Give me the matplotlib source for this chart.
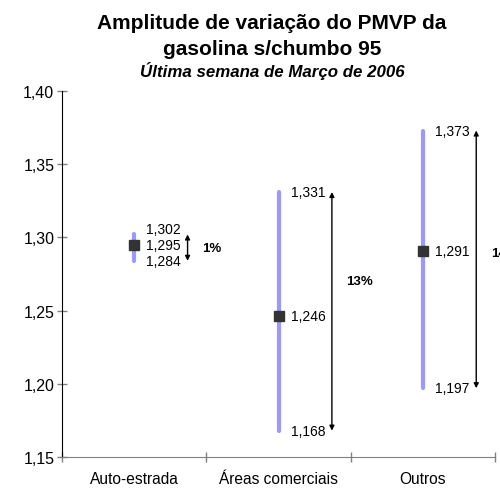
import matplotlib
matplotlib.use("Agg")
import matplotlib.pyplot as plt
from matplotlib.ticker import FixedLocator, FuncFormatter

plt.rcParams['font.family'] = ['Liberation Sans', 'DejaVu Sans']

categories = ["Auto-estrada", "Áreas comerciais", "Outros"]
max_vals = [1.302, 1.331, 1.373]
mean_vals = [1.295, 1.246, 1.291]
min_vals = [1.284, 1.168, 1.197]
pct_labels = ["1%", "13%", "14%"]
y_ticks = [1.15, 1.20, 1.25, 1.30, 1.35, 1.40]

fig = plt.figure(figsize=(5.0, 4.89), dpi=100)
ax = fig.add_axes([0.124, 0.0634, 0.866, 0.7485])

xs = [i + 0.5 for i in range(len(categories))]
for x, hi, mu, lo in zip(xs, max_vals, mean_vals, min_vals):
    ax.plot([x, x], [lo, hi], color="#9999FF", lw=3.0, solid_capstyle="round", zorder=2)
    ax.plot([x], [mu], marker="s", ms=7, color="#333333", zorder=3)
    crowded = (hi - mu) < 0.01
    for v, dy in ((hi, 4 if crowded else 0), (mu, 0), (lo, 0)):
        ax.annotate(f"{v:.3f}".replace(".", ","), xy=(x + 0.085, v),
                    xytext=(0, dy), textcoords="offset points", fontsize=10,
                    va="center", ha="left", color="black", annotation_clip=False)

pct_y = [1.293, 1.27, 1.289]
for x, hi, lo, p, py in zip(xs, max_vals, min_vals, pct_labels, pct_y):
    ax.annotate("", xy=(x + 0.37, hi), xytext=(x + 0.37, lo),
                arrowprops=dict(arrowstyle="<|-|>", color="black", lw=1.0,
                                mutation_scale=7, shrinkA=0, shrinkB=0),
                annotation_clip=False)
    ax.text(x + 0.47, py, p, fontsize=9.5, fontweight="bold", va="center",
            ha="left", clip_on=False)

ax.set_xlim(0, 3)
ax.set_ylim(1.15, 1.40)
ax.yaxis.set_major_locator(FixedLocator(y_ticks))
ax.yaxis.set_major_formatter(FuncFormatter(lambda v, p: f"{v:.2f}".replace(".", ",")))
ax.xaxis.set_major_locator(FixedLocator([0, 1, 2, 3]))
ax.xaxis.set_major_formatter(FuncFormatter(lambda v, p: ""))
ax.xaxis.set_minor_locator(FixedLocator(xs))
ax.set_xticklabels(categories, minor=True)
ax.tick_params(axis="x", which="minor", length=0, labelsize=11.2, pad=10)
ax.tick_params(axis="x", which="major", direction="inout", length=7, color="#808080", width=1)
ax.tick_params(axis="y", direction="inout", length=7, color="#808080", width=1, labelsize=11.5, pad=2)

for s in ("top", "right"):
    ax.spines[s].set_visible(False)
ax.spines["left"].set_color("black")
ax.spines["bottom"].set_color("#808080")

fig.text(0.544, 0.951, "Amplitude de variação do PMVP da", ha="center", va="center",
         fontsize=15, fontweight="bold")
fig.text(0.544, 0.898, "gasolina s/chumbo 95", ha="center", va="center",
         fontsize=15, fontweight="bold")
fig.text(0.544, 0.855, "Última semana de Março de 2006", ha="center", va="center",
         fontsize=12.2, fontweight="bold", style="italic")

fig.savefig("out.png", dpi=100)
